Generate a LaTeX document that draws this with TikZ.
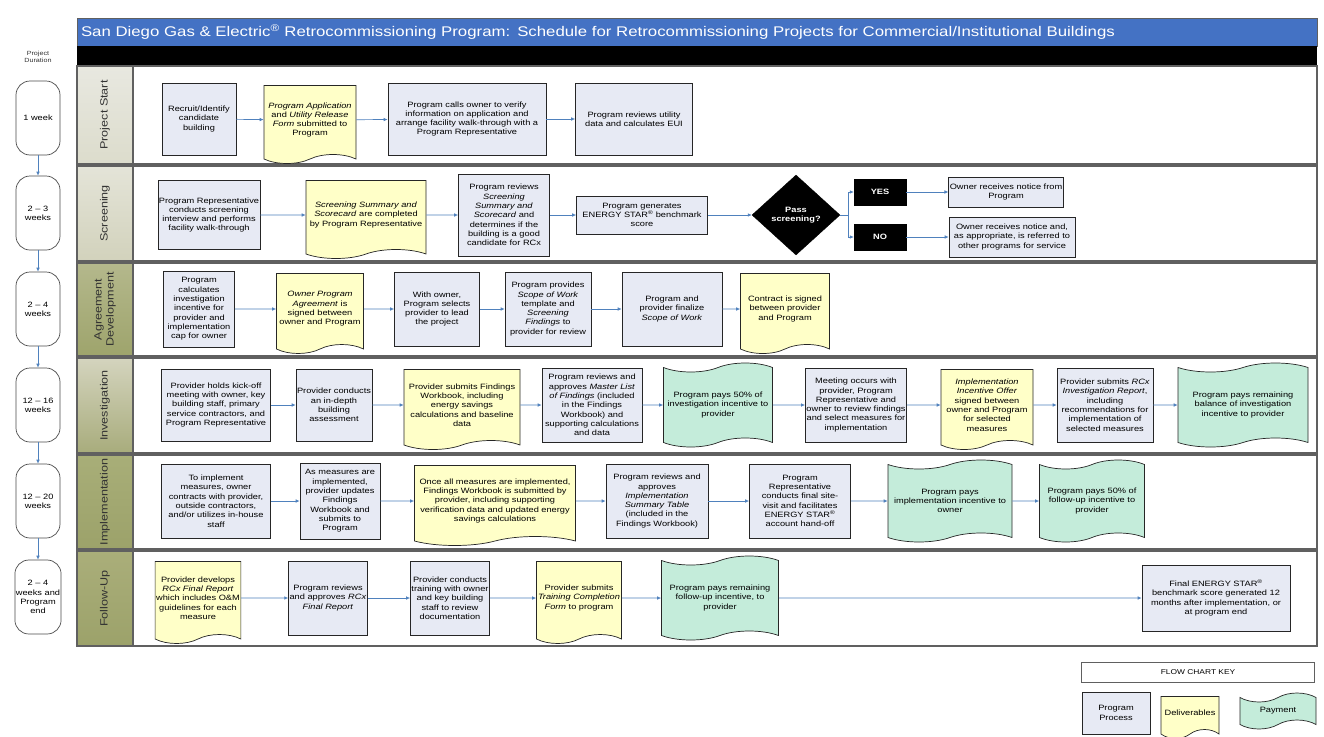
\documentclass[tikz,border=0pt]{standalone}
\usepackage{fontspec}
\setmainfont{Liberation Sans}[FakeStretch=1.2]
\usepackage{xcolor}
\usetikzlibrary{arrows.meta,positioning,shapes.geometric,shapes.symbols}

\definecolor{procfill}{RGB}{231,234,244}
\definecolor{docfill}{RGB}{255,255,200}
\definecolor{payfill}{RGB}{196,236,218}
\definecolor{flowblue}{RGB}{79,129,189}
\definecolor{titleblue}{RGB}{68,114,196}
\definecolor{laneline}{RGB}{96,96,96}
\newcommand{\boxfont}{\fontsize{7.7}{9.3}\selectfont}

\begin{document}
\begin{tikzpicture}[x=1pt, y=-1pt,
  proc/.style={draw=black!85, line width=0.7pt, fill=procfill, align=center, inner sep=1pt, font=\boxfont},
  deliv/.style={tape, tape bend top=none, tape bend height=9pt, draw=black!85, line width=0.7pt, fill=docfill, align=center, inner sep=1pt, font=\boxfont},
  pay/.style={tape, tape bend height=9pt, draw=black!85, line width=0.7pt, fill=payfill, align=center, inner sep=1pt, font=\boxfont},
  answer/.style={fill=black, draw=black, text=white, font=\boxfont\bfseries, minimum width=52, minimum height=26, inner sep=1pt},
  dur/.style={draw=black!70, line width=0.7pt, fill=white, rounded corners=14pt, minimum width=44, minimum height=74, align=center, inner sep=1pt, font=\boxfont},
  lane/.style={draw=laneline, line width=1.1pt},
  lanetext/.style={rotate=90, align=center, font=\fontsize{10.5}{12}\selectfont, text=black!80},
  flow/.style={-{Latex[length=4pt,width=3.6pt]}, line width=0.7pt, draw=flowblue},
  wire/.style={line width=0.7pt, draw=flowblue}
]
\useasboundingbox (0,0) rectangle (1324,736);
\fill[white] (0,0) rectangle (1324,736);

\node[fill=titleblue, draw=laneline, line width=0.6pt, minimum height=28, text width=1232, inner sep=4pt, align=left,
  text=white, font=\fontsize{14}{16}\selectfont] (title) at (697,32)
  {San Diego Gas \& Electric\textsuperscript{®} Retrocommissioning Program: Schedule for Retrocommissioning Projects for Commercial/Institutional Buildings};
\node[fill=black, minimum width=1240, minimum height=20, inner sep=0pt] (band) at (697,56) {};

\foreach \i/\ytop/\ybot/\tc/\bc/\lbl in {
  1/66/164/E8E8E0/DCDCCC/{Project Start},
  2/166/261/E4E4D8/D2D2BC/Screening,
  3/263/356/B4B88C/9EA46C/{Agreement\\Development},
  4/358/453/D4D4BE/A8AC7C/Investigation,
  5/455/549/A8AE78/9CA26A/Implementation,
  6/551/646/AAAE7A/9CA26A/Follow-Up}{
  \definecolor{lanetop}{HTML}{\tc}
  \definecolor{lanebot}{HTML}{\bc}
  \draw[lane] (77,\ytop) rectangle (1317,\ybot);
  \draw[lane, top color=lanetop, bottom color=lanebot] (77,\ytop) rectangle (133,\ybot);
  \node[lanetext] (lane\i) at (105,{(\ytop+\ybot)/2}) {\lbl};
}

\node[font=\fontsize{6}{7}\selectfont, align=center, text=black!80] (durhead) at (38,57) {Project\\Duration};
\node[dur] (dur1) at (38,118) {1 week};
\node[dur] (dur2) at (38,213) {2 -- 3\\weeks};
\node[dur] (dur3) at (38,309) {2 -- 4\\weeks};
\node[dur] (dur4) at (38,405) {12 -- 16\\weeks};
\node[dur] (dur5) at (38,501) {12 -- 20\\weeks};
\node[dur] (dur6) at (38,597) {2 -- 4\\weeks and\\Program\\end};
\foreach \a/\b in {1/2,2/3,3/4,4/5,5/6}
  \draw[flow] (dur\a) -- (dur\b);

% Project Start
\node[proc, minimum width=74, minimum height=72] (p1a) at (199,119) {Recruit/Identify\\candidate\\building};
\node[deliv, minimum width=92, minimum height=78] (d1a) at (310,120) {\textit{Program Application}\\and \textit{Utility Release}\\\textit{Form} submitted to\\Program};
\node[proc, minimum width=158, minimum height=72] (p1b) at (467,119) {Program calls owner to verify\\information on application and\\arrange facility walk-through with a\\Program Representative};
\node[proc, minimum width=117, minimum height=72] (p1c) at (634,119) {Program reviews utility\\data and calculates EUI};
\draw[flow] (p1a) -- (d1a);
\draw[flow] (d1a) -- (p1b);
\draw[flow] (p1b) -- (p1c);

% Screening
\node[proc, minimum width=95, minimum height=69] (p2a) at (209,215) {Program Representative\\conducts screening\\interview and performs\\facility walk-through};
\node[deliv, minimum width=120, minimum height=78] (d2a) at (366,215) {\textit{Screening Summary and}\\\textit{Scorecard} are completed\\by Program Representative};
\node[proc, minimum width=91, minimum height=82] (p2b) at (504,215) {Program reviews\\\textit{Screening}\\\textit{Summary and}\\\textit{Scorecard} and\\determines if the\\building is a good\\candidate for RCx};
\node[proc, minimum width=131, minimum height=38] (p2c) at (642,215) {Program generates\\ENERGY STAR\textsuperscript{®} benchmark\\score};
\node[diamond, fill=black, draw=black, text=white, font=\boxfont\bfseries, align=center, minimum width=88, minimum height=80, inner sep=0pt] (pass) at (796,215) {Pass\\screening?};
\node[answer] (yes) at (880,192) {YES};
\node[answer] (no) at (880,237) {NO};
\node[proc, minimum width=114, minimum height=30] (p2d) at (1006,192) {Owner receives notice from\\Program};
\node[proc, minimum width=126, minimum height=40] (p2e) at (1012,237) {Owner receives notice and,\\as appropriate, is referred to\\other programs for service};
\coordinate (fork) at (848,215);
\draw[flow] (p2a) -- (d2a);
\draw[flow] (d2a) -- (p2b);
\draw[flow] (p2b) -- (p2c);
\draw[flow] (p2c) -- (pass);
\draw[wire] (pass) -- (fork);
\draw[flow] (fork) |- (yes);
\draw[flow] (fork) |- (no);
\draw[flow] (yes) -- (p2d);
\draw[flow] (no) -- (p2e);

% Agreement Development
\node[proc, minimum width=71, minimum height=76] (p3a) at (199,309) {Program\\calculates\\investigation\\incentive for\\provider and\\implementation\\cap for owner};
\node[deliv, minimum width=87, minimum height=80] (d3a) at (320,309) {\textit{Owner Program}\\\textit{Agreement} is\\signed between\\owner and Program};
\node[proc, minimum width=85, minimum height=74] (p3b) at (437,309) {With owner,\\Program selects\\provider to lead\\the project};
\node[proc, minimum width=86, minimum height=74] (p3c) at (548,309) {Program provides\\\textit{Scope of Work}\\template and\\\textit{Screening}\\\textit{Findings} to\\provider for review};
\node[proc, minimum width=100, minimum height=74] (p3d) at (672,309) {Program and\\provider finalize\\\textit{Scope of Work}};
\node[deliv, minimum width=89, minimum height=80] (d3b) at (785,309) {Contract is signed\\between provider\\and Program};
\draw[flow] (p3a) -- (d3a);
\draw[flow] (d3a) -- (p3b);
\draw[flow] (p3b) -- (p3c);
\draw[flow] (p3c) -- (p3d);
\draw[flow] (p3d) -- (d3b);

% Investigation
\node[proc, minimum width=109, minimum height=72] (p4a) at (216,405) {Provider holds kick-off\\meeting with owner, key\\building staff, primary\\service contractors, and\\Program Representative};
\node[proc, minimum width=72, minimum height=72] (p4b) at (334,405) {Provider conducts\\an in-depth\\building\\assessment};
\node[deliv, minimum width=116, minimum height=80] (d4a) at (462,405) {Provider submits Findings\\Workbook, including\\energy savings\\calculations and baseline\\data};
\node[proc, minimum width=100, minimum height=74] (p4c) at (592,405) {Program reviews and\\approves \textit{Master List}\\\textit{of Findings} (included\\in the Findings\\Workbook) and\\supporting calculations\\and data};
\node[pay, minimum width=109, minimum height=84] (y4a) at (718,405) {Program pays 50\% of\\investigation incentive to\\provider};
\node[proc, minimum width=96, minimum height=74] (p4d) at (856,405) {Meeting occurs with\\provider, Program\\Representative and\\owner to review findings\\and select measures for\\implementation};
\node[deliv, minimum width=92, minimum height=80] (d4b) at (987,405) {\textit{Implementation}\\\textit{Incentive Offer}\\signed between\\owner and Program\\for selected\\measures};
\node[proc, minimum width=96, minimum height=74] (p4e) at (1105,405) {Provider submits \textit{RCx}\\\textit{Investigation Report},\\including\\recommendations for\\implementation of\\selected measures};
\node[pay, minimum width=130, minimum height=84] (y4b) at (1243,405) {Program pays remaining\\balance of investigation\\incentive to provider};
\draw[flow] (p4a) -- (p4b);
\draw[flow] (p4b) -- (d4a);
\draw[flow] (d4a) -- (p4c);
\draw[flow] (p4c) -- (y4a);
\draw[flow] (y4a) -- (p4d);
\draw[flow] (p4d) -- (d4b);
\draw[flow] (d4b) -- (p4e);
\draw[flow] (p4e) -- (y4b);

% Implementation
\node[proc, minimum width=109, minimum height=74] (p5a) at (216,501) {To implement\\measures, owner\\contracts with provider,\\outside contractors,\\and/or utilizes in-house\\staff};
\node[proc, minimum width=80, minimum height=76] (p5b) at (340,501) {As measures are\\implemented,\\provider updates\\Findings\\Workbook and\\submits to\\Program};
\node[deliv, minimum width=161, minimum height=80] (d5a) at (495,501) {Once all measures are implemented,\\Findings Workbook is submitted by\\provider, including supporting\\verification data and updated energy\\savings calculations};
\node[proc, minimum width=102, minimum height=74] (p5c) at (657,501) {Program reviews and\\approves\\\textit{Implementation}\\\textit{Summary Table}\\(included in the\\Findings Workbook)};
\node[proc, minimum width=101, minimum height=74] (p5d) at (800,501) {Program\\Representative\\conducts final site-\\visit and facilitates\\ENERGY STAR\textsuperscript{®}\\account hand-off};
\node[pay, minimum width=124, minimum height=82] (y5a) at (950,501) {Program pays\\implementation incentive to\\owner};
\node[pay, minimum width=105, minimum height=82] (y5b) at (1092,501) {Program pays 50\% of\\follow-up incentive to\\provider};
\draw[flow] (p5a) -- (p5b);
\draw[flow] (p5b) -- (d5a);
\draw[flow] (d5a) -- (p5c);
\draw[flow] (p5c) -- (p5d);
\draw[flow] (p5d) -- (y5a);
\draw[flow] (y5a) -- (y5b);

% Follow-Up
\node[deliv, minimum width=79, minimum height=82] (d6a) at (198,598) {Provider develops\\\textit{RCx Final Report}\\which includes O\&M\\guidelines for each\\measure};
\node[proc, minimum width=77, minimum height=74] (p6a) at (328,598) {Program reviews\\and approves \textit{RCx}\\\textit{Final Report}};
\node[proc, minimum width=74, minimum height=74] (p6b) at (450,598) {Provider conducts\\training with owner\\and key building\\staff to review\\documentation};
\node[deliv, minimum width=85, minimum height=82] (d6b) at (579,598) {Provider submits\\\textit{Training Completion}\\\textit{Form} to program};
\node[pay, minimum width=117, minimum height=84] (y6a) at (720,598) {Program pays remaining\\follow-up incentive, to\\provider};
\node[proc, minimum width=148, minimum height=66] (p6c) at (1216,598) {Final ENERGY STAR\textsuperscript{®}\\benchmark score generated 12\\months after implementation, or\\at program end};
\draw[flow] (d6a) -- (p6a);
\draw[flow] (p6a) -- (p6b);
\draw[flow] (p6b) -- (d6b);
\draw[flow] (d6b) -- (y6a);
\draw[flow] (y6a) -- (p6c);

% key
\node[draw=laneline, line width=0.6pt, minimum width=233, minimum height=20, font=\fontsize{7}{8}\selectfont] (keyhead) at (1198,672) {FLOW CHART KEY};
\node[proc, minimum width=68, minimum height=42] (keyproc) at (1116,713) {Program\\Process};
\node[deliv, minimum width=58, minimum height=42] (keydoc) at (1190,713) {Deliverables};
\node[pay, minimum width=76, minimum height=36] (keypay) at (1278,711) {Payment};
\end{tikzpicture}
\end{document}
